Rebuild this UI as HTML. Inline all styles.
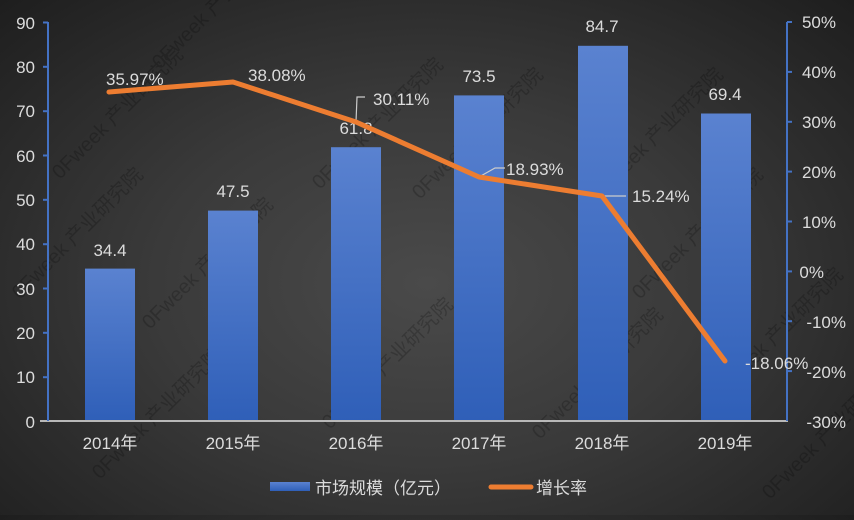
<!DOCTYPE html>
<html><head><meta charset="utf-8"><style>
html,body{margin:0;padding:0;}
body{width:854px;height:515px;overflow:hidden;background:radial-gradient(ellipse at 50% 55%,#4a4a4a 0%,#3a3a3a 45%,#1e1e1e 100%);}
svg text{font-family:"Liberation Sans","Noto Sans CJK SC",sans-serif;fill:#dcdcdc;}
</style></head><body>
<svg width="854" height="515" xmlns="http://www.w3.org/2000/svg">
<defs>
<linearGradient id="bg" x1="0" y1="0" x2="0" y2="1">
<stop offset="0" stop-color="#5a82d0"/><stop offset="1" stop-color="#2f5fb8"/>
</linearGradient>
</defs>
<g font-size="20" opacity="0.2">
<text transform="translate(60,180) rotate(-45)" style="fill:#000">0Fweek 产业研究院</text>
<text transform="translate(320,190) rotate(-45)" style="fill:#000">0Fweek 产业研究院</text>
<text transform="translate(160,70) rotate(-45)" style="fill:#000">0Fweek 产业研究院</text>
<text transform="translate(20,300) rotate(-45)" style="fill:#000">0Fweek 产业研究院</text>
<text transform="translate(150,330) rotate(-45)" style="fill:#000">0Fweek 产业研究院</text>
<text transform="translate(420,200) rotate(-45)" style="fill:#000">0Fweek 产业研究院</text>
<text transform="translate(600,200) rotate(-45)" style="fill:#000">0Fweek 产业研究院</text>
<text transform="translate(640,300) rotate(-45)" style="fill:#000">0Fweek 产业研究院</text>
<text transform="translate(720,400) rotate(-45)" style="fill:#000">0Fweek 产业研究院</text>
<text transform="translate(100,480) rotate(-45)" style="fill:#000">0Fweek 产业研究院</text>
<text transform="translate(330,430) rotate(-45)" style="fill:#000">0Fweek 产业研究院</text>
<text transform="translate(540,440) rotate(-45)" style="fill:#000">0Fweek 产业研究院</text>
<text transform="translate(770,500) rotate(-45)" style="fill:#000">0Fweek 产业研究院</text>
</g>
<rect x="85" y="268.6" width="50" height="152.4" fill="url(#bg)"/>
<rect x="208" y="210.6" width="50" height="210.4" fill="url(#bg)"/>
<rect x="331" y="147.2" width="50" height="273.8" fill="url(#bg)"/>
<rect x="454" y="95.4" width="50" height="325.6" fill="url(#bg)"/>
<rect x="578" y="45.8" width="50" height="375.2" fill="url(#bg)"/>
<rect x="701" y="113.5" width="50" height="307.5" fill="url(#bg)"/>
<line x1="40" y1="421" x2="788" y2="421" stroke="#b8b8b8" stroke-width="2"/>
<line x1="48" y1="22" x2="48" y2="421" stroke="#4472c4" stroke-width="2"/>
<line x1="787" y1="22" x2="787" y2="421" stroke="#4472c4" stroke-width="2"/>
<g stroke="#4472c4" stroke-width="2">
<line x1="43" y1="22.5" x2="48" y2="22.5"/><line x1="43" y1="66.8" x2="48" y2="66.8"/><line x1="43" y1="111.2" x2="48" y2="111.2"/><line x1="43" y1="155.5" x2="48" y2="155.5"/><line x1="43" y1="199.8" x2="48" y2="199.8"/><line x1="43" y1="244.2" x2="48" y2="244.2"/><line x1="43" y1="288.5" x2="48" y2="288.5"/><line x1="43" y1="332.8" x2="48" y2="332.8"/><line x1="43" y1="377.2" x2="48" y2="377.2"/>
<line x1="787" y1="22" x2="792" y2="22"/><line x1="787" y1="71.9" x2="792" y2="71.9"/><line x1="787" y1="121.8" x2="792" y2="121.8"/><line x1="787" y1="171.6" x2="792" y2="171.6"/><line x1="787" y1="221.5" x2="792" y2="221.5"/><line x1="787" y1="271.4" x2="792" y2="271.4"/><line x1="787" y1="321.2" x2="792" y2="321.2"/><line x1="787" y1="371.1" x2="792" y2="371.1"/>
</g>
<g font-size="17" text-anchor="end">
<text x="35" y="29">90</text><text x="35" y="73">80</text><text x="35" y="117">70</text><text x="35" y="162">60</text><text x="35" y="206">50</text><text x="35" y="250">40</text><text x="35" y="295">30</text><text x="35" y="339">20</text><text x="35" y="383">10</text><text x="35" y="428">0</text>
</g>
<g font-size="17" text-anchor="end">
<text x="836" y="28">50%</text><text x="836" y="78">40%</text><text x="836" y="128">30%</text><text x="836" y="178">20%</text><text x="836" y="228">10%</text><text x="824" y="278">0%</text><text x="846" y="328">-10%</text><text x="846" y="378">-20%</text><text x="846" y="428">-30%</text>
</g>
<g font-size="17" text-anchor="middle">
<text x="110" y="449">2014年</text><text x="233" y="449">2015年</text><text x="356" y="449">2016年</text><text x="479" y="449">2017年</text><text x="602" y="449">2018年</text><text x="725" y="449">2019年</text>
</g>
<g font-size="17" text-anchor="middle">
<text x="110" y="256">34.4</text><text x="233" y="197">47.5</text><text x="356" y="134">61.8</text><text x="479" y="82">73.5</text><text x="602" y="32">84.7</text><text x="725" y="100">69.4</text>
</g>
<polyline points="356,122 357,97 365,97" fill="none" stroke="#ccc" stroke-width="1.2"/>
<polyline points="479,177 495,168 505,168" fill="none" stroke="#ccc" stroke-width="1.2"/>
<line x1="602" y1="196" x2="626" y2="196" stroke="#ccc" stroke-width="1.2"/>
<polyline points="109,92 233,82 356,122 479,177 602,196 725,361" fill="none" stroke="#ed7d31" stroke-width="5" stroke-linejoin="round" stroke-linecap="round"/>
<g font-size="17">
<text x="106" y="85">35.97%</text><text x="248" y="81">38.08%</text><text x="373" y="105">30.11%</text><text x="506" y="175">18.93%</text><text x="632" y="202">15.24%</text><text x="745" y="369">-18.06%</text>
</g>
<rect x="270" y="482" width="40" height="9" fill="url(#bg)"/>
<text x="315" y="494" font-size="17">市场规模（亿元）</text>
<line x1="491" y1="487" x2="531" y2="487" stroke="#ed7d31" stroke-width="5" stroke-linecap="round"/>
<text x="536" y="494" font-size="17">增长率</text>
</svg>
</body></html>
